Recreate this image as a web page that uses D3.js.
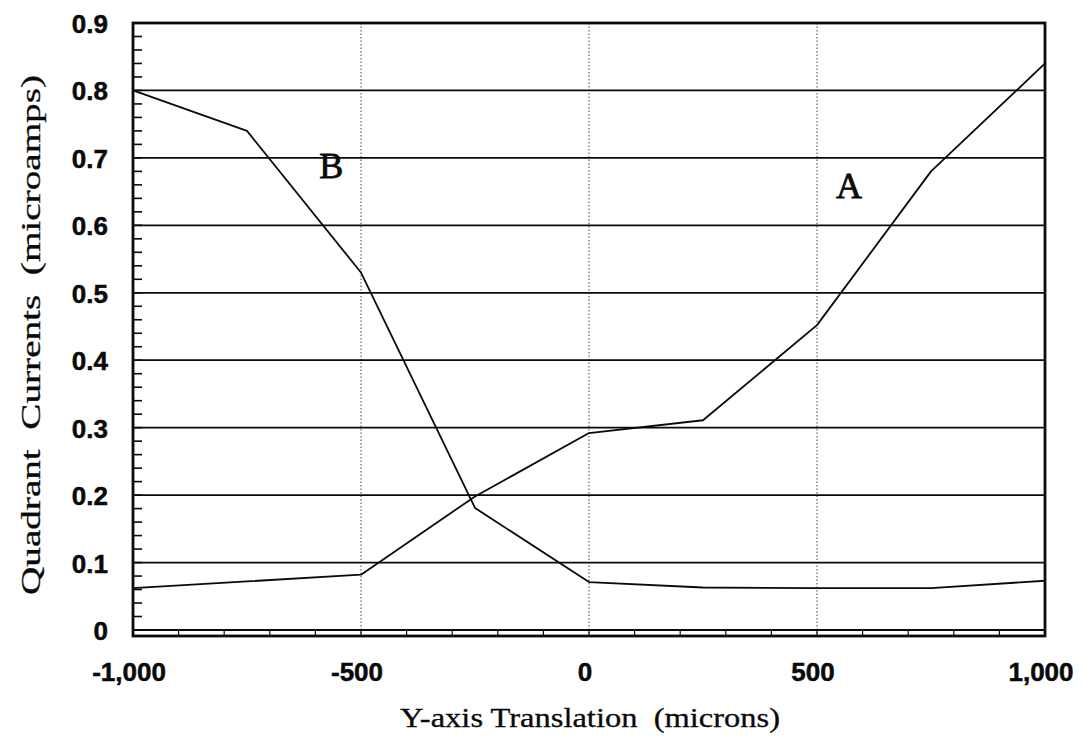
<!DOCTYPE html>
<html>
<head>
<meta charset="utf-8">
<script src="https://cdn.jsdelivr.net/npm/d3@7"></script>
<style>
  html, body { margin: 0; padding: 0; background: #ffffff; }
  svg { display: block; }
  text { white-space: pre; }
</style>
</head>
<body>
<svg id="chart" width="1083" height="752"></svg>
<script>
// ---- data ----
const xValues = [-1000, -750, -500, -250, 0, 250, 500, 750, 1000];
const seriesA = [0.062, 0.072, 0.082, 0.198, 0.292, 0.311, 0.452, 0.68, 0.84];
const seriesB = [0.80, 0.74, 0.53, 0.181, 0.071, 0.063, 0.062, 0.062, 0.073];
const yTickValues = [0, 0.1, 0.2, 0.3, 0.4, 0.5, 0.6, 0.7, 0.8, 0.9];
const yTickLabels = ["0", "0.1", "0.2", "0.3", "0.4", "0.5", "0.6", "0.7", "0.8", "0.9"];
const xTickValues = [-1000, -500, 0, 500, 1000];
const xTickLabels = ["-1,000", "-500", "0", "500", "1,000"];
const seriesLabels = [
  { name: "A", x: 570, y: 0.64 },
  { name: "B", x: -565, y: 0.67 }
];

// ---- layout ----
const svg = d3.select("#chart");
const plotLeft = 133, plotRight = 1045, plotTop = 23, zeroY = 630, frameBottom = 636;
const x = d3.scaleLinear().domain([-1000, 1000]).range([plotLeft, plotRight]);
const y = d3.scaleLinear().domain([0, 0.9]).range([zeroY, plotTop]);
const ink = "#0a0a0a";

// vertical dotted grid lines
svg.append("g").selectAll("line")
  .data(xTickValues.filter(v => v > -1000 && v < 1000))
  .join("line")
  .attr("x1", d => x(d)).attr("x2", d => x(d))
  .attr("y1", plotTop).attr("y2", frameBottom)
  .attr("stroke", "#444").attr("stroke-width", 1)
  .attr("stroke-dasharray", "1.5,2");

// horizontal solid grid lines
svg.append("g").selectAll("line")
  .data(yTickValues)
  .join("line")
  .attr("x1", plotLeft).attr("x2", plotRight)
  .attr("y1", d => y(d)).attr("y2", d => y(d))
  .attr("stroke", ink).attr("stroke-width", d => d === 0 ? 2.2 : 1.8);

// y minor ticks (inward)
const yMinor = d3.range(0, 0.9001, 0.02);
svg.append("g").selectAll("line")
  .data(yMinor)
  .join("line")
  .attr("x1", plotLeft).attr("x2", plotLeft + 9)
  .attr("y1", d => y(d)).attr("y2", d => y(d))
  .attr("stroke", ink).attr("stroke-width", 1.6);

// x minor ticks (between 0 line and frame bottom)
const xMinor = d3.range(-1000, 1001, 100);
svg.append("g").selectAll("line")
  .data(xMinor)
  .join("line")
  .attr("x1", d => x(d)).attr("x2", d => x(d))
  .attr("y1", zeroY).attr("y2", frameBottom)
  .attr("stroke", ink).attr("stroke-width", 1.2);

// frame
svg.append("rect")
  .attr("x", plotLeft).attr("y", plotTop)
  .attr("width", plotRight - plotLeft).attr("height", frameBottom - plotTop)
  .attr("fill", "none").attr("stroke", ink).attr("stroke-width", 2.8);

// series lines
const line = d3.line().x((d, i) => x(xValues[i])).y(d => y(d));
[seriesA, seriesB].forEach(s => {
  svg.append("path")
    .datum(s)
    .attr("d", line)
    .attr("fill", "none")
    .attr("stroke", ink)
    .attr("stroke-width", 1.8)
    .attr("stroke-linejoin", "round");
});

// series labels
svg.append("g").selectAll("text")
  .data(seriesLabels)
  .join("text")
  .attr("x", d => x(d.x)).attr("y", d => y(d.y))
  .attr("text-anchor", "middle")
  .attr("font-family", "'Liberation Serif', 'Times New Roman', serif")
  .attr("font-size", 36)
  .attr("fill", ink).attr("stroke", ink).attr("stroke-width", 0.8)
  .text(d => d.name);

// y tick labels
svg.append("g").selectAll("text")
  .data(yTickValues)
  .join("text")
  .attr("x", 108).attr("y", d => y(d) + 10)
  .attr("text-anchor", "end")
  .attr("font-family", "'Liberation Sans', Arial, sans-serif")
  .attr("font-weight", "bold")
  .attr("font-size", 26)
  .attr("fill", ink).attr("stroke", ink).attr("stroke-width", 0.5)
  .text((d, i) => yTickLabels[i]);

// x tick labels
svg.append("g").selectAll("text")
  .data(xTickValues)
  .join("text")
  .attr("x", d => x(d) - 4).attr("y", 681)
  .attr("text-anchor", "middle")
  .attr("font-family", "'Liberation Sans', Arial, sans-serif")
  .attr("font-weight", "bold")
  .attr("font-size", 26)
  .attr("fill", ink).attr("stroke", ink).attr("stroke-width", 0.5)
  .text((d, i) => xTickLabels[i]);

// axis titles
svg.append("text")
  .attr("x", 590).attr("y", 727)
  .attr("text-anchor", "middle")
  .attr("font-family", "'Liberation Serif', 'Times New Roman', serif")
  .attr("font-size", 27)
  .attr("textLength", 380).attr("lengthAdjust", "spacingAndGlyphs")
  .attr("fill", ink).attr("stroke", ink).attr("stroke-width", 0.3)
  .text("Y-axis Translation  (microns)");

svg.append("text")
  .attr("transform", "translate(40,335) rotate(-90)")
  .attr("text-anchor", "middle")
  .attr("font-family", "'Liberation Serif', 'Times New Roman', serif")
  .attr("font-size", 27)
  .attr("textLength", 520).attr("lengthAdjust", "spacingAndGlyphs")
  .attr("fill", ink).attr("stroke", ink).attr("stroke-width", 0.3)
  .text("Quadrant  Currents  (microamps)");
</script>
</body>
</html>
